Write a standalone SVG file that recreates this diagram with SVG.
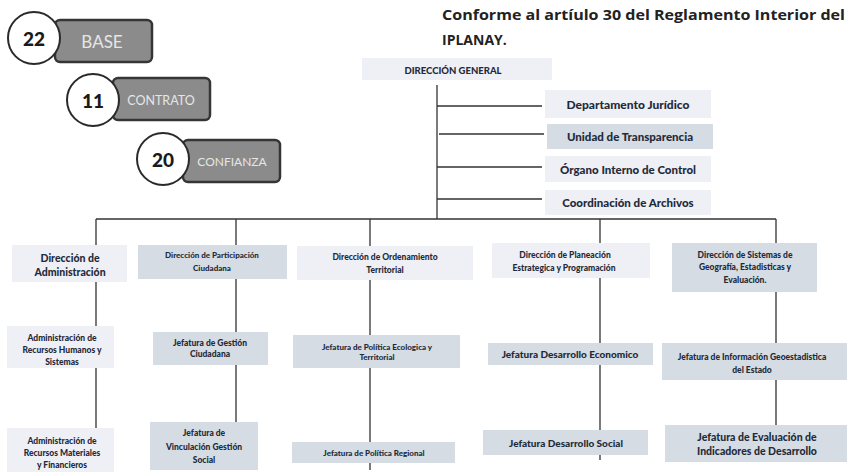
<svg xmlns="http://www.w3.org/2000/svg" width="848" height="472" viewBox="0 0 848 472">
<style>
.bg{fill:#ffffff}
.lav{fill:#efeff6}
.blu{fill:#d5dce3}
.t{font-family:Lato,"Liberation Sans",sans-serif;font-weight:900;fill:#1f2b3a;text-anchor:middle;dominant-baseline:central}
.ln{stroke:#333;stroke-width:1.3;fill:none}
.pill{fill:#8b8b8b;stroke:#353535;stroke-width:2.5}
.circ{fill:#fff;stroke:#2a2a2a;stroke-width:2}
.num{font-family:Lato,"Liberation Sans",sans-serif;font-weight:900;fill:#1a1a1a;text-anchor:middle;dominant-baseline:central;font-size:19px}
.pt{font-family:Lato,"Liberation Sans",sans-serif;fill:#e6e6e6;text-anchor:middle;dominant-baseline:central}
.title{font-family:"Open Sans","Noto Sans",sans-serif;font-weight:700;fill:#222;font-size:14px}
</style>
<rect class="bg" x="0" y="0" width="848" height="472"/>

<g id="legend-base">
<rect class="pill" x="55" y="20" width="97" height="42" rx="5"/>
<circle class="circ" cx="34" cy="38" r="26"/>
<text class="num" x="34" y="38">22</text>
<text class="pt" x="102" y="41" font-size="17">BASE</text>
</g>
<g id="legend-contrato">
<rect class="pill" x="113" y="78" width="97" height="42" rx="5"/>
<circle class="circ" cx="93" cy="100" r="26"/>
<text class="num" x="93" y="100">11</text>
<text class="pt" x="161" y="100" font-size="12.5">CONTRATO</text>
</g>
<g id="legend-confianza">
<rect class="pill" x="183" y="140" width="97" height="42" rx="5"/>
<circle class="circ" cx="163" cy="159" r="26"/>
<text class="num" x="163" y="159">20</text>
<text class="pt" x="232" y="161" font-size="12">CONFIANZA</text>
</g>

<g id="title">
<text class="title" x="442" y="20" textLength="403" lengthAdjust="spacingAndGlyphs">Conforme al artíulo 30 del Reglamento Interior del</text>
<text class="title" x="442" y="45">IPLANAY.</text>
</g>

<g id="connectors">
<path class="ln" d="M437 85V219"/>
<path class="ln" d="M437 106H542M439 134H544M437 167H542M437 199H542"/>
<path class="ln" d="M96 219H776"/>
<path class="ln" d="M96 219V245M96 282V326M96 368V428"/>
<path class="ln" d="M236 219V245M236 279V332M236 365V422"/>
<path class="ln" d="M370 219V246M370 280V335M370 368V442M370 463V470"/>
<path class="ln" d="M600 219V243M600 278V343M600 365V430M600 455V460"/>
<path class="ln" d="M776 219V243M776 292V343M776 380V425"/>
</g>

<g id="dg">
<rect class="lav" x="362" y="58" width="190" height="22"/>
<text class="t" x="453" y="70" font-size="9.5">DIRECCIÓN GENERAL</text>
</g>
<g id="juridico">
<rect class="lav" x="545" y="90" width="166" height="28"/>
<text class="t" x="628" y="104" font-size="12">Departamento Jurídico</text>
</g>
<g id="transparencia">
<rect class="blu" x="547" y="124" width="166" height="25"/>
<text class="t" x="630" y="136" font-size="11.5">Unidad de Transparencia</text>
</g>
<g id="oic">
<rect class="lav" x="545" y="156" width="166" height="26"/>
<text class="t" x="628" y="169" font-size="11.5">Órgano Interno de Control</text>
</g>
<g id="archivos">
<rect class="lav" x="545" y="190" width="166" height="25"/>
<text class="t" x="628" y="202" font-size="11.5">Coordinación de Archivos</text>
</g>

<g id="dir-admin">
<rect class="lav" x="12" y="245" width="115" height="37"/>
<text class="t" x="70" y="258" font-size="10.5">Dirección de</text>
<text class="t" x="70" y="272" font-size="10.5">Administración</text>
</g>
<g id="admin-rh">
<rect class="lav" x="7" y="326" width="107" height="42"/>
<text class="t" x="62" y="338" font-size="8.5">Administración de</text>
<text class="t" x="62" y="350" font-size="8.5">Recursos Humanos y</text>
<text class="t" x="62" y="362" font-size="8.5">Sistemas</text>
</g>
<g id="admin-rm">
<rect class="lav" x="7" y="428" width="107" height="44"/>
<text class="t" x="62" y="441" font-size="8.5">Administración de</text>
<text class="t" x="62" y="453" font-size="8.5">Recursos Materiales</text>
<text class="t" x="62" y="465" font-size="8.5">y Financieros</text>
</g>

<g id="dir-participacion">
<rect class="blu" x="138" y="245" width="149" height="34"/>
<text class="t" x="212" y="255" font-size="8">Dirección de Participación</text>
<text class="t" x="212" y="268" font-size="8">Ciudadana</text>
</g>
<g id="jef-gestion">
<rect class="blu" x="153" y="332" width="115" height="33"/>
<text class="t" x="210" y="343" font-size="8.5">Jefatura de Gestión</text>
<text class="t" x="210" y="354" font-size="8.5">Ciudadana</text>
</g>
<g id="jef-vinculacion">
<rect class="blu" x="150" y="422" width="108" height="48"/>
<text class="t" x="204" y="433" font-size="8.5">Jefatura de</text>
<text class="t" x="204" y="447" font-size="8.5">Vinculación Gestión</text>
<text class="t" x="204" y="460" font-size="8.5">Social</text>
</g>

<g id="dir-ordenamiento">
<rect class="lav" x="297" y="246" width="176" height="34"/>
<text class="t" x="385" y="257" font-size="8.5">Dirección de Ordenamiento</text>
<text class="t" x="385" y="270" font-size="8.5">Territorial</text>
</g>
<g id="jef-ecologica">
<rect class="blu" x="293" y="335" width="167" height="33"/>
<text class="t" x="377" y="347" font-size="8">Jefatura de Política Ecologica y</text>
<text class="t" x="377" y="357" font-size="8">Territorial</text>
</g>
<g id="jef-regional">
<rect class="blu" x="292" y="442" width="163" height="21"/>
<text class="t" x="374" y="453" font-size="8">Jefatura de Política  Regional</text>
</g>

<g id="dir-planeacion">
<rect class="lav" x="492" y="243" width="158" height="35"/>
<text class="t" x="565" y="255" font-size="8.5">Dirección de Planeación</text>
<text class="t" x="564" y="268" font-size="8.5">Estrategica y Programación</text>
</g>
<g id="jef-economico">
<rect class="blu" x="488" y="343" width="165" height="22"/>
<text class="t" x="570" y="354" font-size="10">Jefatura Desarrollo Economico</text>
</g>
<g id="jef-social">
<rect class="blu" x="483" y="430" width="165" height="25"/>
<text class="t" x="566" y="443" font-size="10">Jefatura Desarrollo Social</text>
</g>

<g id="dir-sistemas">
<rect class="blu" x="672" y="243" width="145" height="49"/>
<text class="t" x="745" y="255" font-size="8.5">Dirección de Sistemas de</text>
<text class="t" x="745" y="267" font-size="8.5">Geografía, Estadisticas y</text>
<text class="t" x="745" y="280" font-size="8.5">Evaluación.</text>
</g>
<g id="jef-geoestadistica">
<rect class="blu" x="662" y="343" width="185" height="37"/>
<text class="t" x="752" y="357" font-size="8.5">Jefatura de Información Geoestadistica</text>
<text class="t" x="752" y="370" font-size="8.5">del Estado</text>
</g>
<g id="jef-evaluacion">
<rect class="blu" x="665" y="425" width="182" height="37"/>
<text class="t" x="757" y="437" font-size="10.5">Jefatura de Evaluación de</text>
<text class="t" x="757" y="451" font-size="10.5">Indicadores de Desarrollo</text>
</g>
</svg>
